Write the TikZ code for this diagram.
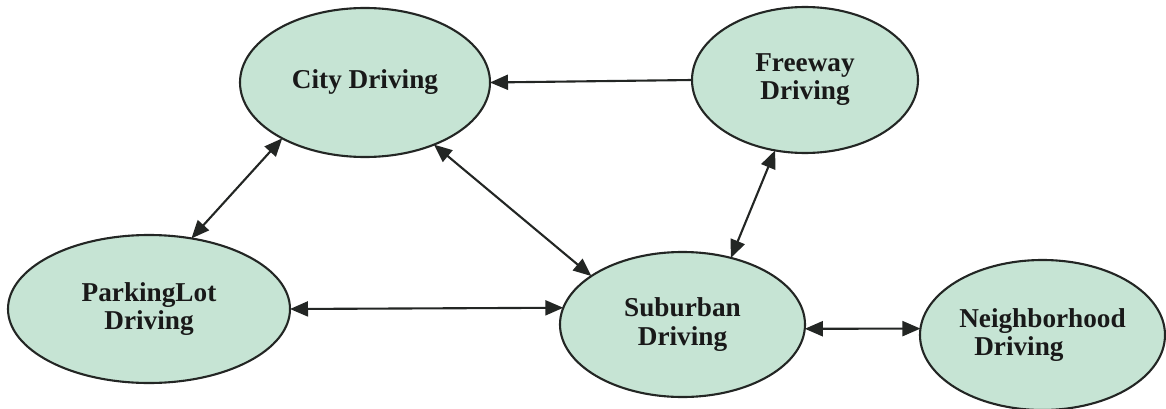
\documentclass[tikz,border=0pt]{standalone}
\usepackage{fontspec}
\setmainfont{Liberation Serif}
\usetikzlibrary{shapes.geometric, arrows.meta}

\definecolor{statefill}{RGB}{198,228,212}
\definecolor{stateline}{RGB}{35,38,36}

\tikzset{
    state/.style={ellipse, draw=stateline, line width=1.2pt, fill=statefill,
        inner sep=0pt, outer sep=0pt, align=center,
        font=\fontsize{15.5}{16}\selectfont\bfseries, text=black!90},
    link/.style={line width=1.2pt, draw=stateline,
        {Triangle[length=0.36cm,width=0.3cm]}-{Triangle[length=0.36cm,width=0.3cm]}},
    oneway/.style={line width=1.2pt, draw=stateline,
        -{Triangle[length=0.36cm,width=0.3cm]}}
}

\begin{document}
\begin{tikzpicture}
    \useasboundingbox (0,0) rectangle (23.32,8.16);
    \node[state, minimum width=5cm, minimum height=2.98cm] (city) at (7.30,6.51) {City Driving};
    \node[state, minimum width=4.52cm, minimum height=2.92cm] (free) at (16.10,6.56) {Freeway\\Driving};
    \node[state, minimum width=5.64cm, minimum height=2.96cm] (park) at (2.98,1.98) {ParkingLot\\Driving};
    \node[state, minimum width=4.9cm, minimum height=2.9cm] (sub) at (13.65,1.67) {Suburban\\Driving};
    \node[state, minimum width=4.9cm, minimum height=3cm, align=left] (neigh) at (20.85,1.46) {Neighborhood\\\hspace{0.3cm}Driving};
    \draw[oneway] (free.west) -- (city.east);
    \draw[link] (city.214) -- (park.59);
    \draw[link] (city.318) -- (sub.152);
    \draw[link] (park.0) -- (sub.172);
    \draw[link] (free.247) -- (sub.54);
    \draw[link] (sub.358) -- (neigh.177);
\end{tikzpicture}
\end{document}
